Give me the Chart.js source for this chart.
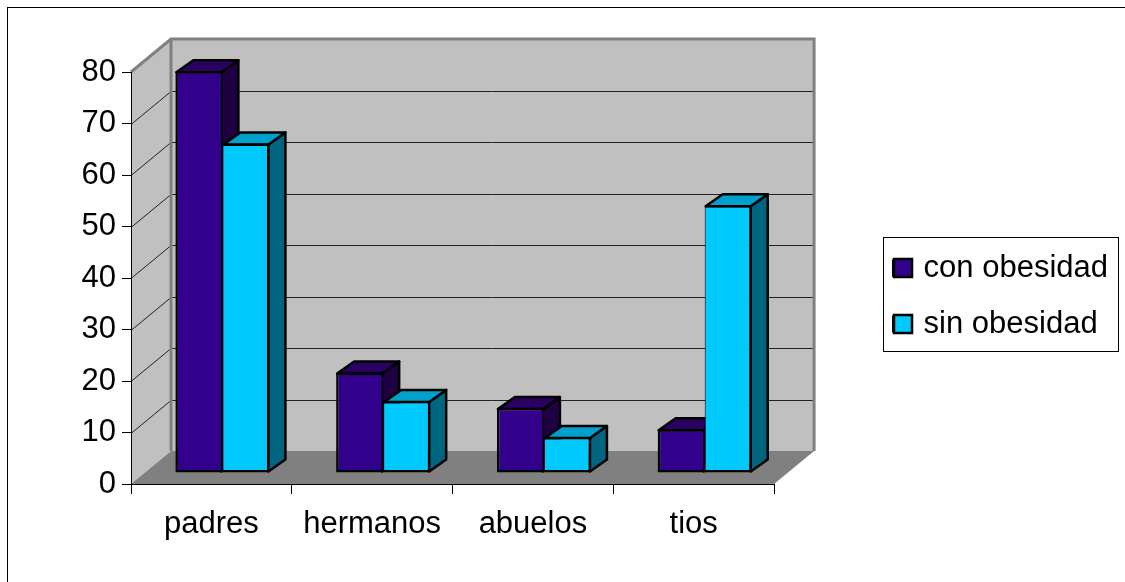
<!DOCTYPE html>
<html>
<head>
<meta charset="utf-8">
<style>
    html, body { margin: 0; padding: 0; background: #fff; }
    canvas { display: block; }
</style>
<script src="https://cdn.jsdelivr.net/npm/chart.js@4"></script>
</head>
<body>
<canvas id="grafico" width="1125" height="582"></canvas>
<script>
const categorias = ['padres', 'hermanos', 'abuelos', 'tios'];
const con_obesidad = [78, 19.5, 12.6, 8.5];
const sin_obesidad = [64, 14, 7, 52];
const marcas_y = [0, 10, 20, 30, 40, 50, 60, 70, 80];

// profundidad de la caja 3D y de las barras, en pixeles
const caja_dx = 40, caja_dy = 33;
const barra_dx = 17, barra_dy = 12;
const barra_sx = 11, barra_sy = 11;

const lados = ['#1f0040', '#006680'];
const tapas = ['#2a0060', '#00a0cc'];

function gera_trama(base, punto){
    const c = document.createElement('canvas');
    c.width = 4; c.height = 4;
    const g = c.getContext('2d');
    g.fillStyle = base;
    g.fillRect(0, 0, 4, 4);
    g.fillStyle = punto;
    g.fillRect(0, 0, 1, 1);
    g.fillRect(2, 2, 1, 1);
    return g.createPattern(c, 'repeat');
}

const caja3d = {
    id: 'caja3d',
    beforeDraw(chart){
        const ctx = chart.ctx, a = chart.chartArea, y = chart.scales.y;
        ctx.save();
        ctx.fillStyle = '#fff';
        ctx.fillRect(0, 0, chart.width, chart.height);
        ctx.strokeStyle = '#000';
        ctx.lineWidth = 1;
        ctx.strokeRect(7.5, 7.5, 1200, 700);

        // paredes y piso
        ctx.fillStyle = '#c0c0c0';
        ctx.fillRect(a.left + caja_dx, a.top - caja_dy, a.width, a.height);
        poligono(ctx, [[a.left, a.top], [a.left + caja_dx, a.top - caja_dy], [a.left + caja_dx, a.bottom - caja_dy], [a.left, a.bottom]]);
        ctx.fill();
        ctx.fillStyle = '#808080';
        poligono(ctx, [[a.left, a.bottom], [a.right, a.bottom], [a.right + caja_dx, a.bottom - caja_dy], [a.left + caja_dx, a.bottom - caja_dy]]);
        ctx.fill();

        // lineas de grilla
        ctx.strokeStyle = '#222';
        ctx.lineWidth = 1;
        marcas_y.slice(1, -1).forEach(function(v){
            const py = Math.round(y.getPixelForValue(v)) + 0.5;
            ctx.beginPath();
            ctx.moveTo(a.left, py);
            ctx.lineTo(a.left + caja_dx, py - caja_dy);
            ctx.lineTo(a.right + caja_dx, py - caja_dy);
            ctx.stroke();
        });

        // bordes grises
        ctx.strokeStyle = '#808080';
        ctx.lineWidth = 3;
        ctx.beginPath();
        ctx.moveTo(a.left, a.top);
        ctx.lineTo(a.left + caja_dx, a.top - caja_dy);
        ctx.lineTo(a.right + caja_dx, a.top - caja_dy);
        ctx.lineTo(a.right + caja_dx, a.bottom - caja_dy);
        ctx.moveTo(a.left + caja_dx, a.top - caja_dy);
        ctx.lineTo(a.left + caja_dx, a.bottom - caja_dy);
        ctx.stroke();

        // marco de la leyenda
        ctx.strokeStyle = '#000';
        ctx.lineWidth = 1;
        ctx.strokeRect(883.5, 237.5, 235, 114);
        ctx.restore();
    },
    afterLayout(chart){
        chart.legend.left += 94;
        chart.legend.right += 94;
        chart.legend.top -= 31;
        chart.legend.bottom -= 31;
    },
    afterDatasetsUpdate(chart){
        chart.data.datasets.forEach(function(ds, i){
            chart.getDatasetMeta(i).data.forEach(function(bar){
                bar.x += barra_sx;
                bar.y -= barra_sy;
                bar.base -= barra_sy;
            });
        });
    },
    beforeDatasetsDraw(chart){
        const ctx = chart.ctx;
        ctx.save();
        ctx.strokeStyle = '#000';
        ctx.lineWidth = 2.5;
        ctx.lineJoin = 'round';
        chart.data.datasets.forEach(function(ds, i){
            chart.getDatasetMeta(i).data.forEach(function(bar){
                const izq = bar.x - bar.width / 2 + 1, der = bar.x + bar.width / 2 - 1;
                const arriba = bar.y + 1, abajo = bar.base - 1;
                // costado
                ctx.fillStyle = lados[i];
                poligono(ctx, [[der, arriba], [der + barra_dx, arriba - barra_dy], [der + barra_dx, abajo - barra_dy], [der, abajo]]);
                ctx.fill();
                ctx.stroke();
                // tapa
                ctx.fillStyle = tapas[i];
                poligono(ctx, [[izq, arriba], [izq + barra_dx, arriba - barra_dy], [der + barra_dx, arriba - barra_dy], [der, arriba]]);
                ctx.fill();
                ctx.stroke();
            });
        });
        ctx.restore();
    },
    afterDatasetsDraw(chart){
        // cuadritos de la leyenda, mas grandes que el hueco que deja la libreria
        const ctx = chart.ctx;
        ctx.save();
        ctx.strokeStyle = '#000';
        ctx.lineWidth = 2.5;
        chart.data.datasets.forEach(function(ds, i){
            const centro = chart.legend.legendHitBoxes[i].top + 15.5;
            ctx.fillStyle = ds.backgroundColor;
            ctx.fillRect(894, centro - 9, 18, 18);
            ctx.strokeRect(894, centro - 9, 18, 18);
        });
        ctx.restore();
    }
};

function poligono(ctx, puntos){
    ctx.beginPath();
    puntos.forEach(function(p, i){
        if(i == 0) ctx.moveTo(p[0], p[1]);
        else ctx.lineTo(p[0], p[1]);
    });
    ctx.closePath();
}

const fuente = { family: '"Liberation Sans", Arial, sans-serif', size: 31 };

const ctx = document.getElementById('grafico').getContext('2d');
const myChart = new Chart(ctx, {
    type: 'bar',
    data: {
        labels: categorias,
        datasets: [{
            label: 'con obesidad',
            data: con_obesidad,
            backgroundColor: gera_trama('#330090', '#2a0070'),
            borderColor: '#000',
            borderWidth: { top: 2.5, left: 2.5, bottom: 2.5, right: 1.5 },
            borderSkipped: false,
            clip: false
        }, {
            label: 'sin obesidad',
            data: sin_obesidad,
            backgroundColor: gera_trama('#00ccff', '#00b8f0'),
            borderColor: '#000',
            borderWidth: { top: 2.5, left: 1, bottom: 2.5, right: 2.5 },
            borderSkipped: false,
            clip: false
        }]
    },
    options: {
        responsive: false,
        animation: false,
        layout: { padding: { top: 72, right: 101, bottom: 0, left: 0 } },
        categoryPercentage: 0.585,
        barPercentage: 1,
        plugins: {
            tooltip: { enabled: false },
            legend: {
                position: 'right',
                maxWidth: 400,
                labels: {
                    boxWidth: 15,
                    boxHeight: 15,
                    padding: 25,
                    color: '#000',
                    font: fuente
                }
            }
        },
        scales: {
            x: {
                afterFit: function(scale){ scale.height = 98; },
                grid: { drawOnChartArea: false, tickLength: 10, tickColor: '#000' },
                border: { color: '#000', width: 1 },
                ticks: { color: '#000', font: fuente, padding: 12, maxRotation: 0 }
            },
            y: {
                min: 0,
                max: 80,
                afterFit: function(scale){ scale.width = 131; },
                grid: { drawOnChartArea: false, tickLength: 9, tickColor: '#000' },
                border: { color: '#000', width: 1 },
                ticks: { color: '#000', font: fuente, padding: 6, stepSize: 10 }
            }
        }
    },
    plugins: [caja3d]
});
</script>
</body>
</html>
